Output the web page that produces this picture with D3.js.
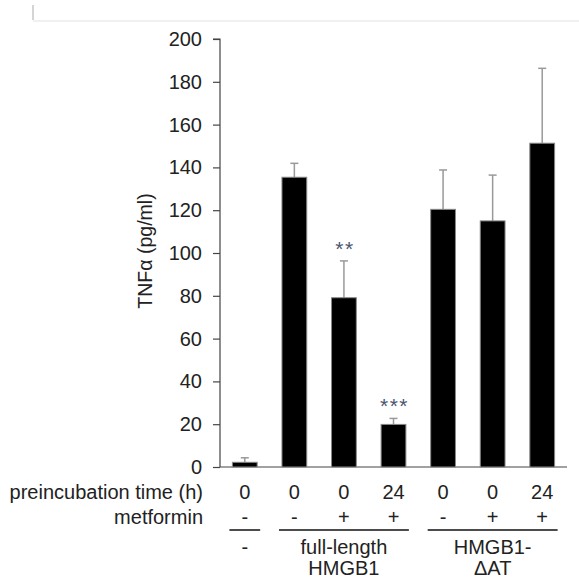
<!DOCTYPE html>
<html>
<head>
<meta charset="utf-8">
<script src="https://cdn.jsdelivr.net/npm/d3@7"></script>
<style>
  html, body { margin: 0; padding: 0; background: #fff; }
  svg { display: block; font-family: "Liberation Sans", Arial, sans-serif; }
</style>
</head>
<body>
<svg id="chart" width="579" height="579"></svg>
<script>
const preincubation = ["0", "0", "0", "24", "0", "0", "24"];
const metformin = ["-", "-", "+", "+", "-", "+", "+"];
const tnfValues = [2.2, 135.4, 79.1, 19.9, 120.4, 115.0, 151.3];
const tnfErrors = [2.1, 6.5, 17.2, 2.8, 18.4, 21.4, 35.0];
const significance = ["", "", "**", "***", "", "", ""];
const groupLabels = [["-"], ["full-length", "HMGB1"], ["HMGB1-", "\u0394AT"]];
const groupStart = [0, 1, 4];
const groupEnd = [0, 3, 6];
const yTicks = [0, 20, 40, 60, 80, 100, 120, 140, 160, 180, 200];

const svg = d3.select("#chart");
const textColor = "#222";
const fs = 20;

// decoration at top
svg.append("line").attr("x1", 33).attr("x2", 579).attr("y1", 21).attr("y2", 21)
  .attr("stroke", "#e2e2e2").attr("stroke-width", 1);
svg.append("line").attr("x1", 33).attr("x2", 33).attr("y1", 5).attr("y2", 20)
  .attr("stroke", "#aaa").attr("stroke-width", 1);

const x = d3.scaleBand().domain(d3.range(tnfValues.length)).range([220, 567])
  .paddingInner(0.5).paddingOuter(0.25);
const y = d3.scaleLinear().domain([0, 200]).range([467, 39]);

// y axis
const yAxis = d3.axisLeft(y).tickValues(yTicks).tickSize(7).tickPadding(11).tickFormat(d3.format("d"));
const gy = svg.append("g").attr("transform", "translate(220,0)").call(yAxis);
gy.select(".domain").attr("stroke", "#444").attr("stroke-width", 1.2).attr("d", `M-7,${y(200)}H0V${y(0)}`);
gy.selectAll(".tick line").attr("stroke", "#444").attr("stroke-width", 1.2);
gy.selectAll(".tick text").attr("font-size", fs).attr("fill", textColor)
  .attr("font-family", "'Liberation Sans', Arial, sans-serif");

// x axis baseline
const xAxis = d3.axisBottom(x).tickSize(0).tickFormat("");
const gx = svg.append("g").attr("transform", `translate(0,${y(0)})`).call(xAxis);
gx.select(".domain").attr("stroke", "#444").attr("stroke-width", 1.2).attr("d", `M220,0H567`);

// y title
svg.append("text")
  .attr("transform", `translate(152,251) rotate(-90)`)
  .attr("text-anchor", "middle")
  .attr("font-size", 19.5).attr("fill", textColor)
  .text("TNF\u03b1 (pg/ml)");

const idx = d3.range(tnfValues.length);

// error bars
const err = svg.append("g").attr("stroke", "#999").attr("stroke-width", 1.5);
idx.forEach(i => {
  const cx = x(i) + x.bandwidth() / 2;
  err.append("line").attr("x1", cx).attr("x2", cx)
    .attr("y1", y(tnfValues[i])).attr("y2", y(tnfValues[i] + tnfErrors[i]));
  err.append("line").attr("x1", cx - 4).attr("x2", cx + 4)
    .attr("y1", y(tnfValues[i] + tnfErrors[i])).attr("y2", y(tnfValues[i] + tnfErrors[i]));
});

// bars
svg.append("g").selectAll("rect").data(idx).join("rect")
  .attr("x", i => x(i)).attr("width", x.bandwidth())
  .attr("y", i => y(tnfValues[i])).attr("height", i => y(0) - y(tnfValues[i]))
  .attr("fill", "#000").attr("stroke", "#888").attr("stroke-width", 1);

// significance stars
svg.append("g").selectAll("text").data(idx.filter(i => significance[i])).join("text")
  .attr("x", i => x(i) + x.bandwidth() / 2 + 1)
  .attr("y", i => y(tnfValues[i] + tnfErrors[i]) - 5)
  .attr("text-anchor", "middle")
  .attr("font-size", 21).attr("letter-spacing", 1.5)
  .attr("fill", "#4a5570")
  .text(i => significance[i]);

// row labels
svg.append("text").attr("x", 203).attr("y", 498.5).attr("text-anchor", "end")
  .attr("font-size", fs).attr("fill", textColor).text("preincubation time (h)");
svg.append("text").attr("x", 203).attr("y", 523.5).attr("text-anchor", "end")
  .attr("font-size", fs).attr("fill", textColor).text("metformin");

svg.append("g").selectAll("text").data(idx).join("text")
  .attr("x", i => x(i) + x.bandwidth() / 2).attr("y", 498.5)
  .attr("text-anchor", "middle").attr("font-size", fs).attr("fill", textColor)
  .text(i => preincubation[i]);
svg.append("g").selectAll("text").data(idx).join("text")
  .attr("x", i => x(i) + x.bandwidth() / 2).attr("y", 523.5)
  .attr("text-anchor", "middle").attr("font-size", fs).attr("fill", textColor)
  .text(i => metformin[i]);

// group lines and labels
groupLabels.forEach((lab, g) => {
  const x0 = x(groupStart[g]) - 3;
  const x1 = x(groupEnd[g]) + x.bandwidth() + 3;
  svg.append("line").attr("x1", x0).attr("x2", x1).attr("y1", 530).attr("y2", 530)
    .attr("stroke", "#111").attr("stroke-width", 1.5);
  lab.forEach((t, k) => {
    svg.append("text").attr("x", (x0 + x1) / 2).attr("y", 554 + k * 21)
      .attr("text-anchor", "middle").attr("font-size", fs).attr("fill", textColor)
      .text(t);
  });
});
</script>
</body>
</html>
